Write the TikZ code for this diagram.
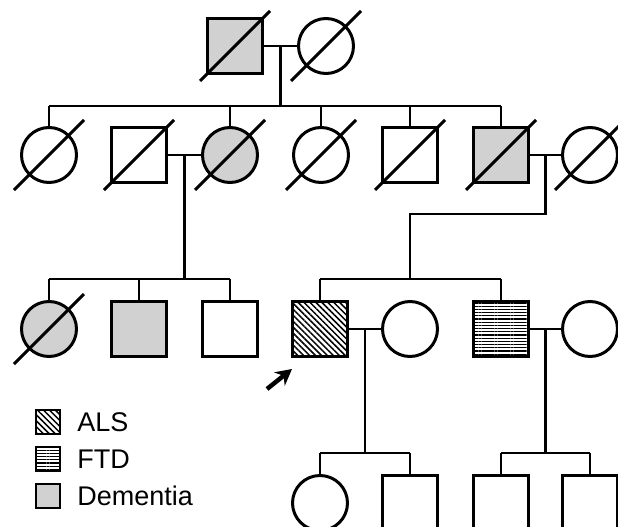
\documentclass[tikz,border=0pt]{standalone}
\usepackage{fontspec}
\setmainfont{Liberation Sans}
\usepackage{xcolor}
\usetikzlibrary{arrows.meta, positioning, calc, patterns.meta}

\definecolor{demgray}{gray}{0.82}

\tikzset{
    person/.style = {draw, line width=3pt, inner sep=0pt, minimum size=55pt},
    male/.style = {person, rectangle},
    female/.style = {person, circle},
    dementia/.style = {fill=demgray},
    als/.style = {pattern={Lines[angle=-45, distance=4.2pt, line width=1.5pt]}},
    ftd/.style = {pattern={Lines[angle=0, distance=3.2pt, line width=1.2pt]}},
    link/.style = {line width=2.4pt},
    keybox/.style = {draw, line width=2.2pt, inner sep=0pt, minimum size=24pt},
    keytext/.style = {inner sep=0pt, font=\fontsize{27}{32}\selectfont},
}

\begin{document}
\begin{tikzpicture}[x=1pt, y=-1pt]
    \useasboundingbox (0,0) rectangle (618,527);

    % generation I
    \node (I1) [male, dementia] at (235,46) {};
    \node (I2) [female] at (326,46) {};

    % generation II
    \node (II1) [female] at (49,155) {};
    \node (II2) [male] at (139,155) {};
    \node (II3) [female, dementia] at (230,155) {};
    \node (II4) [female] at (321,155) {};
    \node (II5) [male] at (410,155) {};
    \node (II6) [male, dementia] at (501,155) {};
    \node (II7) [female] at (590,155) {};

    % generation III
    \node (III1) [female, dementia] at (49,329) {};
    \node (III2) [male, dementia] at (139,329) {};
    \node (III3) [male] at (230,329) {};
    \node (III4) [male, als] at (320,329) {};
    \node (III5) [female] at (410,329) {};
    \node (III6) [male, ftd] at (501,329) {};
    \node (III7) [female] at (590,329) {};

    % generation IV
    \node (IV1) [female] at (320,503) {};
    \node (IV2) [male] at (410,503) {};
    \node (IV3) [male] at (501,503) {};
    \node (IV4) [male] at (590,503) {};

    \foreach \p in {I1,I2,II1,II2,II3,II4,II5,II6,II7,III1}
        \draw [line width=3pt] (\p.center) ++(-35,35) -- ++(70,-70);

    \coordinate (sibII) at (0,106);
    \coordinate (bend) at (0,214);
    \coordinate (sibIII) at (0,279);
    \coordinate (sibIV) at (0,453);
    \coordinate (mI) at ($(I1)!0.5!(I2)$);
    \coordinate (mIIa) at ($(II2)!0.5!(II3)$);
    \coordinate (mIIb) at ($(II6)!0.5!(II7)$);
    \coordinate (mIIIa) at ($(III4)!0.5!(III5)$);
    \coordinate (mIIIb) at ($(III6)!0.5!(III7)$);

    \draw [link] (I1) -- (I2);
    \draw [link] (II2) -- (II3);
    \draw [link] (II6) -- (II7);
    \draw [link] (III4) -- (III5);
    \draw [link] (III6) -- (III7);

    \draw [link] (mI) -- (mI |- sibII);
    \draw [link] (mIIa) -- (mIIa |- sibIII);
    \draw [link] (mIIb) -- (mIIb |- bend) -| (III5 |- sibIII);
    \draw [link] (mIIIa) -- (mIIIa |- sibIV);
    \draw [link] (mIIIb) -- (mIIIb |- sibIV);

    \draw [link] (II1 |- sibII) -- (II6 |- sibII);
    \draw [link] (III1 |- sibIII) -- (III3 |- sibIII);
    \draw [link] (III4 |- sibIII) -- (III6 |- sibIII);
    \draw [link] (IV1 |- sibIV) -- (IV2 |- sibIV);
    \draw [link] (IV3 |- sibIV) -- (IV4 |- sibIV);
    \foreach \c in {II1,II3,II4,II5,II6}
        \draw [link] (\c |- sibII) -- (\c);
    \foreach \c in {III1,III2,III3,III4,III6}
        \draw [link] (\c |- sibIII) -- (\c);
    \foreach \c in {IV1,IV2,IV3,IV4}
        \draw [link] (\c |- sibIV) -- (\c);

    % proband
    \coordinate (probtail) at (267,389);
    \coordinate (probtip) at (292,369);
    \draw [line width=4.5pt, -{Stealth[length=16pt, width=17pt]}] (probtail) -- (probtip);

    % legend
    \node (keyALS) [keybox, als] at (48,422) {};
    \node (keyFTD) [keybox, ftd] at (48,459) {};
    \node (keyDem) [keybox, dementia] at (48,496) {};
    \node [keytext, right=16pt of keyALS] {ALS};
    \node [keytext, right=16pt of keyFTD] {FTD};
    \node [keytext, right=16pt of keyDem] {Dementia};
\end{tikzpicture}
\end{document}
